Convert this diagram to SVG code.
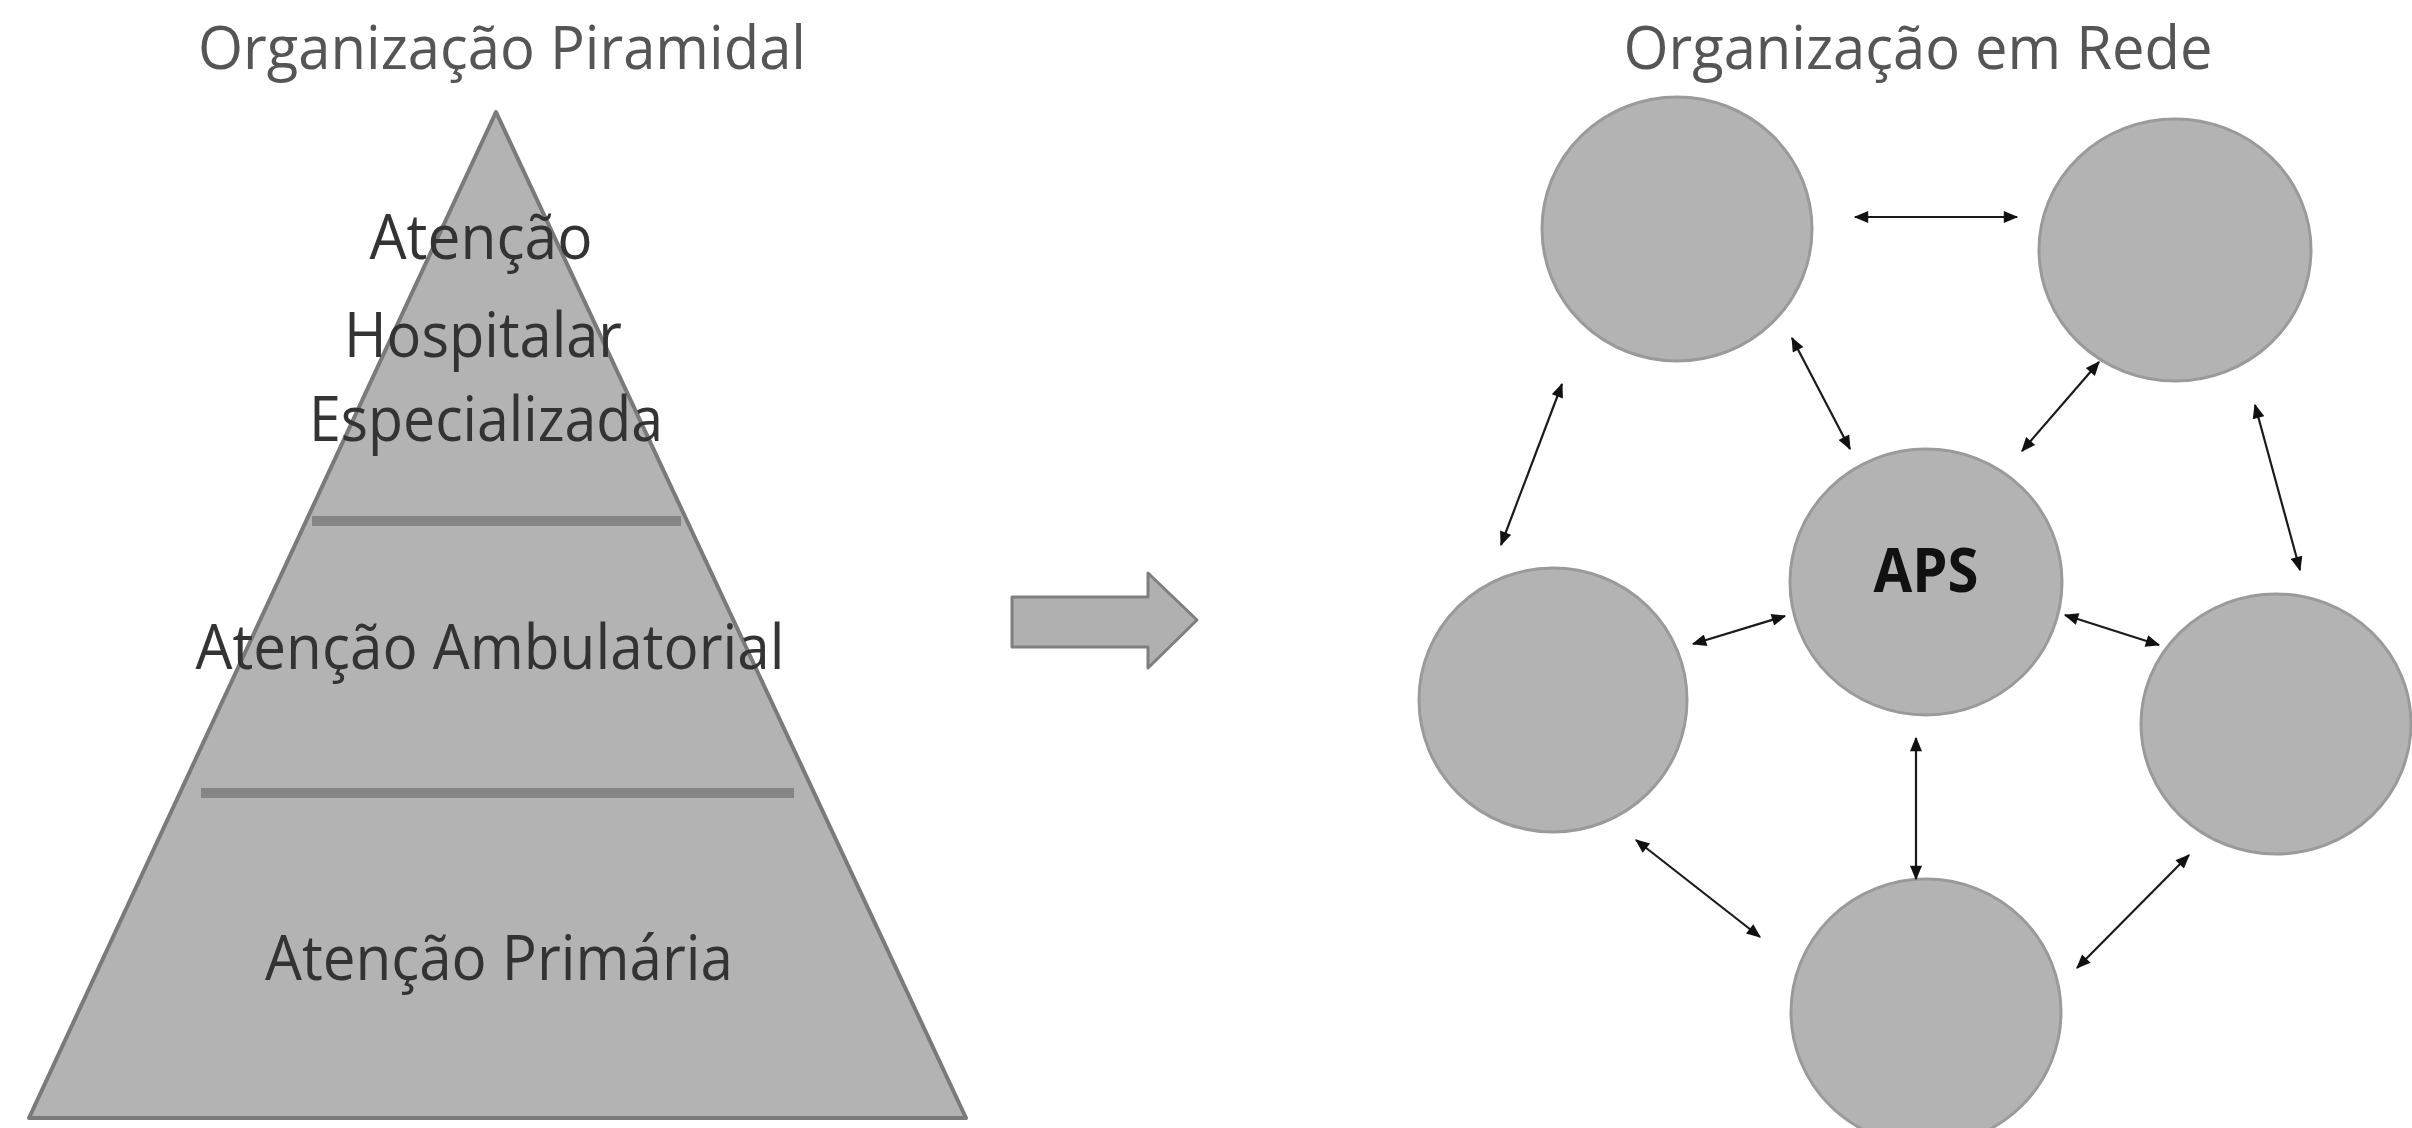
<svg xmlns="http://www.w3.org/2000/svg" width="2412" height="1128" viewBox="0 0 2412 1128">
<style>
.title{font-family:"Open Sans","Liberation Sans",sans-serif;font-size:60px;fill:#555555;text-anchor:middle}
.ptxt{font-family:"Open Sans","Liberation Sans",sans-serif;font-size:62px;fill:#333333;text-anchor:middle}
.aps{font-family:"Open Sans","Liberation Sans",sans-serif;font-size:60px;font-weight:bold;fill:#111111;text-anchor:middle}
.node{fill:#b3b3b3;stroke:#9a9a9a;stroke-width:3}
.conn{stroke:#1a1a1a;stroke-width:2.2;fill:none;marker-start:url(#ah);marker-end:url(#ah)}
</style>
<defs>
<marker id="ah" viewBox="0 0 12 10" refX="11" refY="5" markerWidth="16" markerHeight="12" markerUnits="userSpaceOnUse" orient="auto-start-reverse">
<path d="M0,0 L12,5 L0,10 Z" fill="#111111"/>
</marker>
</defs>
<rect width="2412" height="1128" fill="#ffffff"/>
<text class="title" x="502" y="69" textLength="608" lengthAdjust="spacingAndGlyphs">Organização Piramidal</text>
<text class="title" x="1918" y="69" textLength="589" lengthAdjust="spacingAndGlyphs">Organização em Rede</text>
<g id="pyramid">
<polygon points="496,112 966,1118 29,1118" fill="#b3b3b3" stroke="#7a7a7a" stroke-width="4" stroke-linejoin="round"/>
<line x1="312" y1="521" x2="681" y2="521" stroke="#858585" stroke-width="10"/>
<line x1="201" y1="793" x2="794" y2="793" stroke="#858585" stroke-width="10"/>
<text class="ptxt" x="481" y="259" textLength="223" lengthAdjust="spacingAndGlyphs">Atenção</text>
<text class="ptxt" x="483" y="357" textLength="278" lengthAdjust="spacingAndGlyphs">Hospitalar</text>
<text class="ptxt" x="486" y="441" textLength="354" lengthAdjust="spacingAndGlyphs">Especializada</text>
<text class="ptxt" x="490" y="669" textLength="589" lengthAdjust="spacingAndGlyphs">Atenção Ambulatorial</text>
<text class="ptxt" x="499" y="980" textLength="468" lengthAdjust="spacingAndGlyphs">Atenção Primária</text>
</g>
<g id="transition-arrow">
<polygon points="1012,597 1148,597 1148,573 1197,620 1148,668 1148,647 1012,647" fill="#b0b0b0" stroke="#7f7f7f" stroke-width="3" stroke-linejoin="round"/>
</g>
<g id="node-top-left"><ellipse class="node" cx="1677" cy="229" rx="135" ry="132"/></g>
<g id="node-top-right"><ellipse class="node" cx="2175" cy="250" rx="136" ry="131"/></g>
<g id="node-aps"><ellipse class="node" cx="1926" cy="582" rx="136" ry="133"/><text class="aps" x="1926" y="592" textLength="105" lengthAdjust="spacingAndGlyphs">APS</text></g>
<g id="node-left"><ellipse class="node" cx="1553" cy="700" rx="134" ry="132"/></g>
<g id="node-right"><ellipse class="node" cx="2276" cy="724" rx="135" ry="130"/></g>
<g id="node-bottom"><ellipse class="node" cx="1926" cy="1012" rx="135" ry="133"/></g>
<g id="connectors">
<line class="conn" x1="1855" y1="217" x2="2017" y2="217"/>
<line class="conn" x1="1792" y1="338" x2="1850" y2="449"/>
<line class="conn" x1="2099" y1="362" x2="2022" y2="451"/>
<line class="conn" x1="1562" y1="384" x2="1501" y2="545"/>
<line class="conn" x1="2255" y1="405" x2="2300" y2="570"/>
<line class="conn" x1="1693" y1="644" x2="1785" y2="616"/>
<line class="conn" x1="2065" y1="615" x2="2159" y2="645"/>
<line class="conn" x1="1916" y1="738" x2="1916" y2="879"/>
<line class="conn" x1="1636" y1="840" x2="1760" y2="937"/>
<line class="conn" x1="2189" y1="855" x2="2077" y2="968"/>
</g>
</svg>
